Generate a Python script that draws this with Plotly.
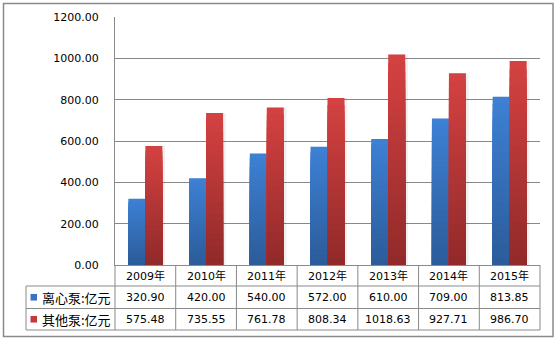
import plotly.graph_objects as go

# Pump market size (亿元) by year
years = ["2009年", "2010年", "2011年", "2012年", "2013年", "2014年", "2015年"]
centrifugal = [320.90, 420.00, 540.00, 572.00, 610.00, 709.00, 813.85]
other_pumps = [575.48, 735.55, 761.78, 808.34, 1018.63, 927.71, 986.70]
series_names = ["离心泵:亿元", "其他泵:亿元"]
y_ticks = [0, 200, 400, 600, 800, 1000, 1200]

W, H = 556, 339
M_L, M_R, M_T, M_B = 115, 16, 17, 74
PW = W - M_L - M_R
PH = H - M_T - M_B

FONT = "DejaVu Sans, Noto Sans CJK SC, sans-serif"
CJK_FONT = "Noto Sans CJK SC, sans-serif"
GRID = "#888888"
BORDER = "#8a8a8a"

# gradient endpoints (top colour, bottom colour) per series
gradients = [((61, 128, 212), (44, 92, 154)),
             ((212, 65, 65), (146, 42, 42))]
key_colors = ["#3a73c2", "#c23a3a"]

BAR_W = 0.28
offsets = [-BAR_W, 0.0]
N_STEPS = 24

x_pos = list(range(len(years)))


def px_x(px):
    return (px - M_L) / PW


def px_y(py):
    return (M_T + PH - py) / PH


def mix(c1, c2, t):
    return "rgb({},{},{})".format(*[round(a + (b - a) * t) for a, b in zip(c1, c2)])


fig = go.Figure()

for s, values in enumerate([centrifugal, other_pumps]):
    top, bottom = gradients[s]
    # soft drop shadow on the right of each bar
    fig.add_trace(go.Bar(
        x=x_pos, y=values, width=BAR_W, offset=offsets[s] + 0.045,
        marker=dict(color="rgba(0,0,0,0.06)", line=dict(width=0)),
        showlegend=False, hoverinfo="skip"))
    # layered bars: tallest (lightest) first, shorter darker ones on top
    for k in range(N_STEPS):
        frac = (N_STEPS - k) / N_STEPS
        t = k / (N_STEPS - 1)
        fig.add_trace(go.Bar(
            x=x_pos, y=[v * frac for v in values], width=BAR_W, offset=offsets[s],
            marker=dict(color=mix(top, bottom, t), line=dict(width=0)),
            showlegend=False, hoverinfo="skip" if k else "y",
            name=series_names[s]))

shapes = []
annotations = []

row_edges = [px_y(265), px_y(286), px_y(308.5), px_y(330)]
legend_left = px_x(26)

# table grid: vertical lines at category boundaries
for k in range(len(years) + 1):
    shapes.append(dict(type="line", xref="paper", yref="paper",
                       x0=k / len(years), x1=k / len(years),
                       y0=row_edges[0], y1=row_edges[3],
                       line=dict(color=BORDER, width=1)))
shapes.append(dict(type="line", xref="paper", yref="paper",
                   x0=legend_left, x1=legend_left, y0=row_edges[1], y1=row_edges[3],
                   line=dict(color=BORDER, width=1)))
for r in (1, 2, 3):
    shapes.append(dict(type="line", xref="paper", yref="paper",
                       x0=legend_left, x1=1, y0=row_edges[r], y1=row_edges[r],
                       line=dict(color=BORDER, width=1)))

# outer chart frame
shapes.append(dict(type="rect", xref="paper", yref="paper",
                   x0=px_x(3.5), x1=px_x(553), y0=px_y(3.5), y1=px_y(336.5),
                   line=dict(color=BORDER, width=1.5), layer="below"))

row_mid = [(row_edges[i] + row_edges[i + 1]) / 2 for i in range(3)]

for i, yr in enumerate(years):
    annotations.append(dict(x=x_pos[i], xref="x", y=row_mid[0], yref="paper",
                            xanchor="center", yanchor="middle",
                            text=yr, showarrow=False,
                            font=dict(family=FONT, size=11, color="#000")))
for s, values in enumerate([centrifugal, other_pumps]):
    for i, v in enumerate(values):
        annotations.append(dict(x=x_pos[i], xref="x", y=row_mid[s + 1], yref="paper",
                                xanchor="center", yanchor="middle",
                                text=f"{v:.2f}", showarrow=False,
                                font=dict(family=FONT, size=11, color="#000")))
    # legend key square and series label
    ky = row_mid[s + 1]
    shapes.append(dict(type="rect", xref="paper", yref="paper",
                       x0=px_x(30.5), x1=px_x(37), y0=ky - 3.3 / PH, y1=ky + 3.3 / PH,
                       fillcolor=key_colors[s], line=dict(width=0)))
    annotations.append(dict(x=px_x(39.5), xref="paper", y=ky, yref="paper",
                            xanchor="left", yanchor="middle",
                            text=series_names[s], showarrow=False,
                            font=dict(family=CJK_FONT, size=13, color="#000")))

fig.update_layout(
    width=W, height=H,
    margin=dict(l=M_L, r=M_R, t=M_T, b=M_B, pad=0),
    paper_bgcolor="white", plot_bgcolor="white",
    barmode="overlay", showlegend=False,
    shapes=shapes, annotations=annotations,
    font=dict(family=FONT, size=11, color="#000"),
    xaxis=dict(range=[-0.5, len(years) - 0.5], showticklabels=False, ticks="",
               showgrid=False, zeroline=False, showline=True,
               linecolor=BORDER, linewidth=1, fixedrange=True),
    yaxis=dict(range=[0, 1200], tickvals=y_ticks, tickformat=".2f",
               showgrid=True, gridcolor=GRID, gridwidth=1, zeroline=False,
               showline=True, linecolor=BORDER, linewidth=1,
               ticks="outside", ticklen=13, tickcolor="rgba(0,0,0,0)",
               tickfont=dict(family=FONT, size=11, color="#000"), fixedrange=True),
)

fig.write_html("out.html")
